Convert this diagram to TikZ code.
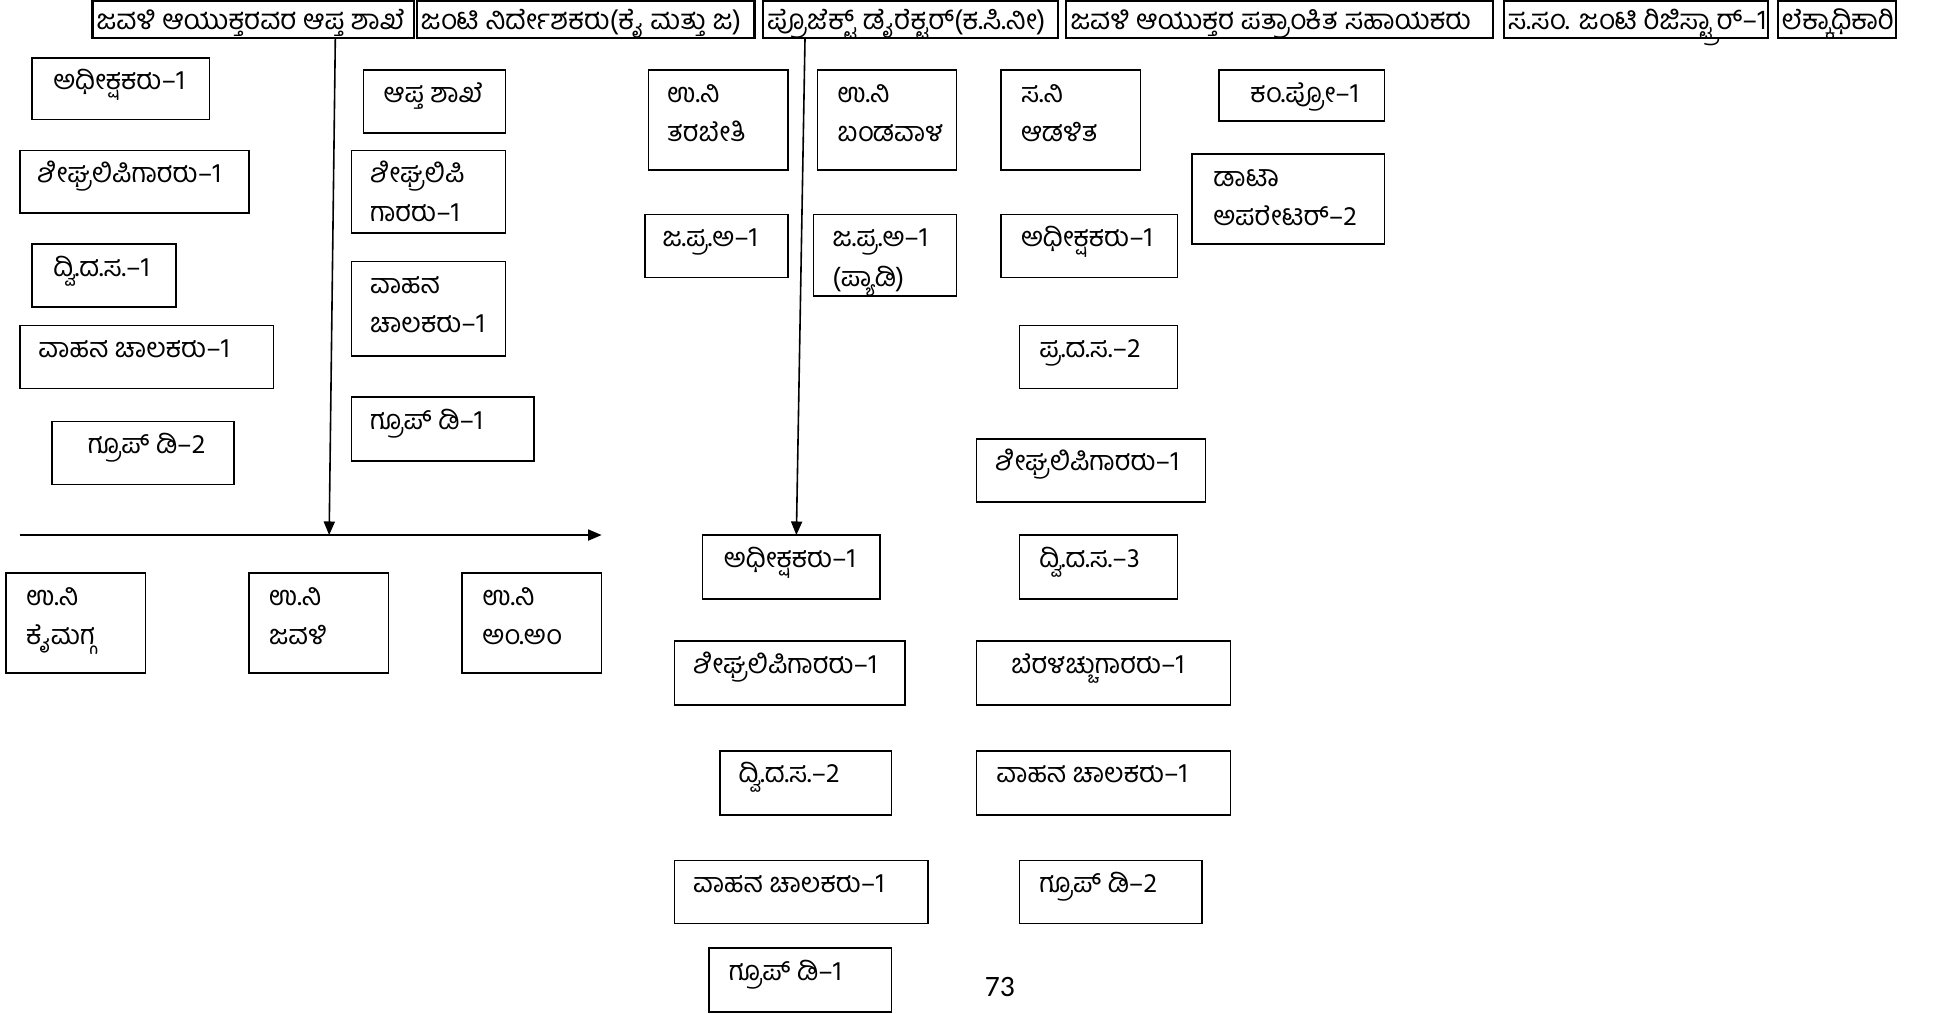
\documentclass[tikz,border=0pt]{standalone}
\usepackage{fontspec}
\usetikzlibrary{arrows.meta}
\newfontfamily\kn[Script=Kannada]{Hind Mysuru}
\newfontfamily\pgnum{Carlito}
\tikzset{
  bx/.style={draw, line width=1.3pt, rectangle, inner sep=0pt},
  hb/.style={draw, line width=1.7pt, rectangle, inner sep=0pt},
  htxt/.style={anchor=base west, inner sep=0pt, font=\kn\fontsize{22.5}{26}\selectfont},
  txt/.style={anchor=base west, inner sep=0pt, font=\kn\fontsize{22}{26}\selectfont},
  arr/.style={line width=1.3pt, -{Triangle[length=11pt,width=9pt]}},
  ln/.style={line width=1.3pt}
}
% single line box: name, x1, y1, x2, y2, xoff, text
\newcommand\kbone[7]{%
  \node[bx, minimum width={#4pt-#2pt}, minimum height={#5pt-#3pt}] (#1) at ({(#2+#4)/2},{(#3+#5)/2}) {};
  \node[txt] (#1t) at ({#2+#6},{#3+26}) {#7};}
% two line box
\newcommand\kbtwo[8]{%
  \node[bx, minimum width={#4pt-#2pt}, minimum height={#5pt-#3pt}] (#1) at ({(#2+#4)/2},{(#3+#5)/2}) {};
  \node[txt] (#1t) at ({#2+#6},{#3+26}) {#7};
  \node[txt] (#1u) at ({#2+#6},{#3+58}) {#8};}
% header box: name, x1, x2, text
\newcommand\khead[4]{%
  \node[hb, minimum width={#3pt-#2pt}, minimum height={30pt}] (#1) at ({(#2+#3)/2},16) {};
  \node[htxt] (#1t) at ({#2+3},24) {#4};}
\begin{document}
\begin{tikzpicture}[x=1pt,y=-1pt]
\useasboundingbox (0,0) rectangle (1568,822);
% header row
\khead{h1}{75}{336}{ಜವಳಿ ಆಯುಕ್ತರವರ ಆಪ್ತ ಶಾಖೆ}
\khead{h2}{338}{612}{ಜಂಟಿ ನಿರ್ದೇಶಕರು(ಕೈ ಮತ್ತು ಜ)}
\khead{h3}{619}{858}{ಪ್ರೊಜೆಕ್ಟ್ ಡೈರೆಕ್ಟರ್(ಕ.ಸಿ.ನೀ)}
\khead{h4}{865}{1211}{ಜವಳಿ ಆಯುಕ್ತರ ಪತ್ರಾಂಕಿತ ಸಹಾಯಕರು}
\khead{h5}{1220}{1434}{ಸ.ಸಂ. ಜಂಟಿ ರಿಜಿಸ್ಟ್ರಾರ್–1}
\khead{h6}{1442}{1538}{ಲೆಕ್ಕಾಧಿಕಾರಿ}
% column A
\kbone{a1}{26}{47}{170}{97}{17}{ಅಧೀಕ್ಷಕರು–1}
\kbone{a2}{16}{122}{202}{173}{14}{ಶೀಘ್ರಲಿಪಿಗಾರರು–1}
\kbone{a3}{26}{198}{143}{249}{17}{ದ್ವಿ.ದ.ಸ.–1}
\kbone{a4}{16}{264}{222}{315}{15}{ವಾಹನ ಚಾಲಕರು–1}
\kbone{a5}{42}{342}{190}{393}{29}{ಗ್ರೂಪ್ ಡಿ–2}
% column B
\kbone{b1}{295}{57}{410}{108}{16}{ಆಪ್ತ ಶಾಖೆ}
\kbtwo{b2}{285}{122}{410}{189}{15}{ಶೀಘ್ರಲಿಪಿ}{ಗಾರರು–1}
\kbtwo{b3}{285}{212}{410}{289}{15}{ವಾಹನ}{ಚಾಲಕರು–1}
\kbone{b4}{285}{322}{433}{374}{15}{ಗ್ರೂಪ್ ಡಿ–1}
% bottom row
\kbtwo{u1}{5}{465}{118}{546}{16}{ಉ.ನಿ}{ಕೈಮಗ್ಗ}
\kbtwo{u2}{202}{465}{315}{546}{16}{ಉ.ನಿ}{ಜವಳಿ}
\kbtwo{u3}{375}{465}{488}{546}{16}{ಉ.ನಿ}{ಅಂ.ಅಂ}
% column C, D
\kbtwo{c1}{526}{57}{639}{138}{15}{ಉ.ನಿ}{ತರಬೇತಿ}
\kbone{c2}{523}{174}{639}{225}{14}{ಜ.ಪ್ರ.ಅ–1}
\kbtwo{d1}{663}{57}{776}{138}{16}{ಉ.ನಿ}{ಬಂಡವಾಳ}
\kbtwo{d2}{660}{174}{776}{240}{15}{ಜ.ಪ್ರ.ಅ–1}{(ಪ್ಯಾಡಿ)}
% column E
\kbtwo{e1}{812}{57}{925}{138}{16}{ಸ.ನಿ}{ಆಡಳಿತ}
\kbone{e2}{812}{174}{955}{225}{16}{ಅಧೀಕ್ಷಕರು–1}
\kbone{e3}{827}{264}{955}{315}{16}{ಪ್ರ.ದ.ಸ.–2}
\kbone{e4}{792}{356}{978}{407}{15}{ಶೀಘ್ರಲಿಪಿಗಾರರು–1}
\kbone{e5}{827}{434}{955}{486}{16}{ದ್ವಿ.ದ.ಸ.–3}
\kbone{e6}{792}{520}{998}{572}{28}{ಬೆರಳಚ್ಚುಗಾರರು–1}
\kbone{e7}{792}{609}{998}{661}{16}{ವಾಹನ ಚಾಲಕರು–1}
\kbone{e8}{827}{698}{975}{749}{16}{ಗ್ರೂಪ್ ಡಿ–2}
% column F
\kbone{f1}{570}{434}{714}{486}{17}{ಅಧೀಕ್ಷಕರು–1}
\kbone{f2}{547}{520}{734}{572}{15}{ಶೀಘ್ರಲಿಪಿಗಾರರು–1}
\kbone{f3}{584}{609}{723}{661}{15}{ದ್ವಿ.ದ.ಸ.–2}
\kbone{f4}{547}{698}{753}{749}{15}{ವಾಹನ ಚಾಲಕರು–1}
\kbone{f5}{575}{769}{723}{821}{16}{ಗ್ರೂಪ್ ಡಿ–1}
% column G
\kbone{g1}{989}{57}{1123}{98}{25}{ಕಂ.ಪ್ರೋ–1}
\kbtwo{g2}{967}{125}{1123}{198}{17}{ಡಾಟಾ}{ಅಪರೇಟರ್–2}
% page number
\node[inner sep=0pt, font=\pgnum\fontsize{24}{28}\selectfont] (pg) at (811,801) {73};
% connectors
\coordinate (h1b) at (272,31);
\coordinate (hm) at (267,434);
\coordinate (hl) at (16,434);
\coordinate (hr) at (488,434);
\coordinate (h3b) at (653,31);
\coordinate (f1top) at (646,434);
\draw[arr] (h1b) -- (hm);
\draw[arr] (hl) -- (hr);
\draw[arr] (h3b) -- (f1top);
\end{tikzpicture}
\end{document}
